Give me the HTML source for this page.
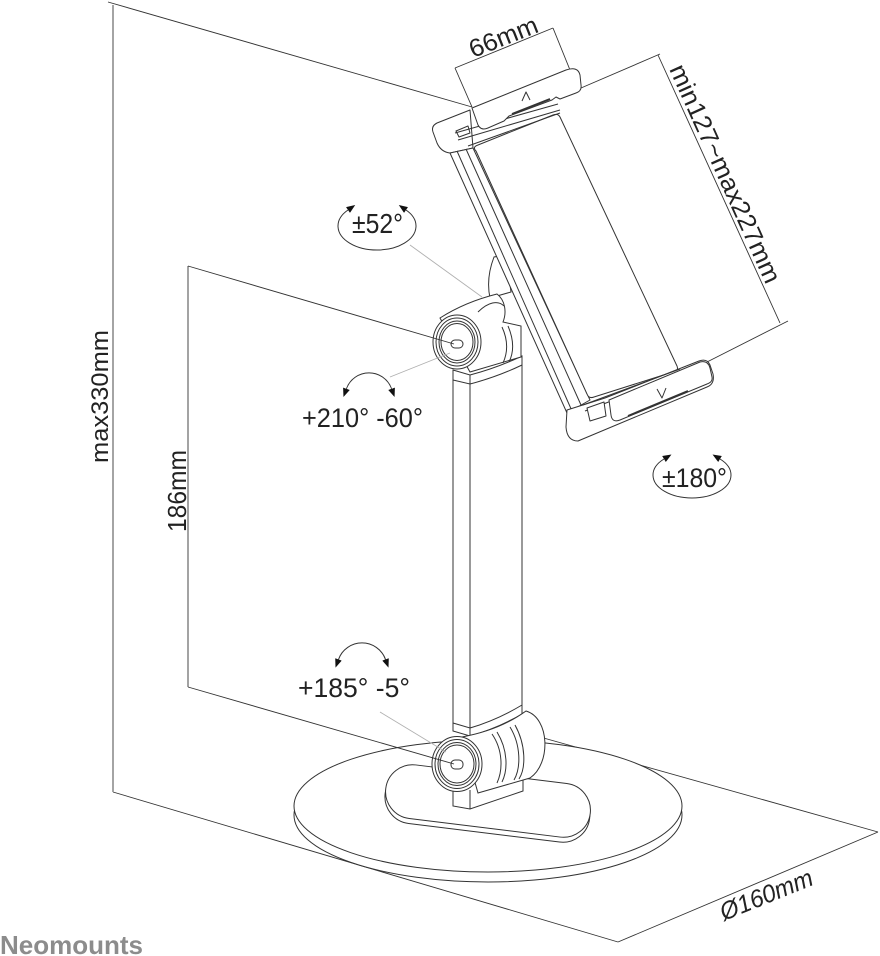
<!DOCTYPE html>
<html><head><meta charset="utf-8"><style>
html,body{margin:0;padding:0;background:#fff;}
svg{display:block;}
text{font-family:"Liberation Sans",sans-serif;fill:#222;}
</style></head><body>
<svg width="880" height="956" viewBox="0 0 880 956" xmlns="http://www.w3.org/2000/svg">
<defs>
<marker id="ah" viewBox="0 0 10 8" refX="0" refY="4" markerWidth="9" markerHeight="7" markerUnits="userSpaceOnUse" orient="auto-start-reverse"><path d="M0,0 L10,4 L0,8 Z" fill="#111"/></marker>
</defs>
<rect width="880" height="956" fill="#fff"/>

<!-- dimension lines (back) -->
<g stroke="#333" stroke-width="0.9" fill="none">
  <line x1="113" y1="792" x2="618" y2="942"/>
  <line x1="618" y1="942" x2="878" y2="832"/>
  <line x1="540" y1="737" x2="878" y2="832"/>
  <line x1="188" y1="266" x2="188" y2="687"/>
  <line x1="108" y1="2" x2="472" y2="107"/>
  <line x1="455" y1="68" x2="553" y2="28"/>
  <line x1="455" y1="68" x2="472" y2="107"/>
  <line x1="553" y1="28" x2="570" y2="70"/>
  <line x1="581" y1="88" x2="660" y2="54"/>
  <line x1="658" y1="55" x2="780" y2="323"/>
  <line x1="707" y1="362" x2="788" y2="321"/>
</g>
<line x1="113" y1="5" x2="113" y2="792" stroke="#9a9a9a" stroke-width="1.8"/>

<!-- base disk -->
<g stroke="#333" stroke-width="1" fill="#fff">
  <ellipse cx="488" cy="815" rx="194" ry="67"/>
  <ellipse cx="488" cy="806" rx="194" ry="66"/>
  <g transform="translate(488,801) rotate(7)">
    <rect x="-103" y="-22" width="206" height="54" rx="27"/>
    <rect x="-103" y="-27" width="206" height="54" rx="27"/>
  </g>
</g>

<!-- column -->
<g stroke="#333" stroke-width="1" fill="#fff">
  <path d="M453,370 L470,375 Q497,368 522,356 L522,714 Q498,728 470,736 L453,731 Z"/>
  <path d="M453,380 L470,384 Q497,377 522,365" fill="none"/>
  <path d="M453,723 L470,728 Q497,720 522,705" fill="none"/>
  <line x1="470" y1="375" x2="470" y2="736"/>
</g>

<!-- lower joint -->
<g stroke="#333" stroke-width="1" fill="#fff">
  <path d="M453,783 L453,806 L470,809 L523,791 L523,768 Z"/>
  <line x1="470" y1="790" x2="470" y2="809"/>
  <path d="M462,737 Q500,730 526,711 C550,718 551,764 530,778 L478,793 Z"/>
  <path d="M492,734 C503,750 503,770 497,783" fill="none"/>
  <path d="M497,732 C508,750 508,770 502,782" fill="none"/>
  <path d="M510,727 C521,745 521,768 514,780" fill="none"/>
  <path d="M515,725 C526,745 526,768 519,779" fill="none"/>
  <ellipse cx="457" cy="764" rx="25" ry="27.5"/>
  <ellipse cx="457" cy="764" rx="22" ry="24.5"/>
  <ellipse cx="457" cy="764" rx="19" ry="21.5"/>
  <ellipse cx="457" cy="764" rx="17" ry="19"/>
  <rect x="451" y="760" width="12" height="9" rx="4"/>
</g>

<!-- upper joint -->
<g stroke="#333" stroke-width="1" fill="#fff">
  <path d="M490,298 C487,284 489,270 494,257 L506,255 L511,292 Z"/>
  <path d="M440,318 Q465,302 497,294 C505,300 507,312 503,322 L521,326 L521,357 L470,372 Z"/>
  <path d="M478,312 C488,302 498,300 504,306" fill="none"/>
  <path d="M502,327 C508,340 508,352 503,363" fill="none"/>
  <path d="M508,326 C514,340 514,352 509,362" fill="none"/>
  <ellipse cx="457" cy="342" rx="24" ry="27"/>
  <ellipse cx="457" cy="342" rx="21" ry="24"/>
  <ellipse cx="457" cy="342" rx="18" ry="21"/>
  <ellipse cx="457" cy="342" rx="16" ry="18.5"/>
  <rect x="451" y="340" width="12" height="8" rx="4"/>
</g>

<!-- tablet holder -->
<g stroke="#333" stroke-width="1" fill="#fff" stroke-linejoin="round">
  <path d="M470,110 L437,123 Q431,126 433,132 L437,143 Q441,152 450,153 L473,148 Z"/>
  <path d="M450,153 L567,413 L590,400 L473,148 Z"/>
  <line x1="457" y1="151" x2="572" y2="411"/>
  <line x1="466" y1="149" x2="581" y2="405"/>
  <path d="M476,151 Q472,147 478,145 L553,115 Q558,113 560,117 L677,366 Q679,371 673,372 L594,397 Q589,399 587,394 Z"/>
  <path d="M456,131 L468,126 L470,133 L459,137 Z"/>
  <line x1="455" y1="133" x2="558" y2="104"/>
  <line x1="458" y1="140" x2="560" y2="110"/>
  <line x1="468" y1="146" x2="560" y2="113"/>
  <path d="M472,108 L566,70 Q578,66 580,75 L581,85 Q582,91 576,93 L560,99 L556,97 L552,100 L509,116 L504,121 L488,128 Q481,131 478,125 Z"/>
  <path d="M512,114 L550,99" stroke-width="2" fill="none"/>
  <path d="M522,101 L526,92 L530,100" fill="none"/>
  <path d="M567,410 L566,427 Q567,441 578,441 L707,387 Q715,384 713,374 L710,365 Q707,358 699,361 L605,398 Z"/>
  <line x1="583" y1="405" x2="680" y2="369"/>
  <line x1="585" y1="411" x2="682" y2="374"/>
  <path d="M609,400 L700,362 Q708,360 710,368 L712,377 Q713,382 707,384 L620,420 Q612,423 611,415 Z"/>
  <path d="M628,416 L688,391" stroke-width="2" fill="none"/>
  <path d="M657,389 L662,398 L666,388" fill="none"/>
  <path d="M587,408 L604,402 L606,416 L590,421 Z"/>
</g>

<!-- extension lines into knobs, leaders -->
<g stroke="#333" stroke-width="0.9">
  <line x1="188" y1="266" x2="454" y2="344"/>
  <line x1="188" y1="687" x2="454" y2="764"/>
</g>
<g stroke="#b0b0b0" stroke-width="0.9">
  <line x1="410" y1="245" x2="482" y2="297"/>
  <line x1="390" y1="377" x2="450" y2="353"/>
  <line x1="380" y1="712" x2="446" y2="752"/>
</g>

<!-- rotation arcs -->
<g stroke="#333" stroke-width="1" fill="none" marker-start="url(#ah)" marker-end="url(#ah)">
  <path d="M348,210 A39 24 0 1 0 406,210"/>
  <path d="M664,459 A39 23 0 1 0 720,459"/>
  <path d="M346.4,388.8 A24 24 0 0 1 391.6,388.8"/>
  <path d="M338.5,659.4 A25 25 0 0 1 385.5,659.4"/>
</g>

<!-- labels -->
<text transform="translate(473,58) rotate(-21.5)" font-size="25" textLength="72" lengthAdjust="spacingAndGlyphs">66mm</text>
<text transform="translate(669,69) rotate(65.8)" font-size="25" textLength="237" lengthAdjust="spacingAndGlyphs">min127~max227mm</text>
<text transform="translate(108,463) rotate(-90)" font-size="24" textLength="133" lengthAdjust="spacingAndGlyphs">max330mm</text>
<text transform="translate(186,532) rotate(-90)" font-size="26" textLength="82" lengthAdjust="spacingAndGlyphs">186mm</text>
<text x="352" y="233" font-size="28" textLength="51" lengthAdjust="spacingAndGlyphs">±52°</text>
<text x="302" y="427" font-size="27" textLength="121" lengthAdjust="spacingAndGlyphs">+210° -60°</text>
<text x="298" y="697" font-size="27" textLength="112" lengthAdjust="spacingAndGlyphs">+185° -5°</text>
<text x="662" y="487" font-size="27" textLength="65" lengthAdjust="spacingAndGlyphs">±180°</text>
<text transform="translate(724,921) rotate(-22)" font-size="25" font-style="italic" textLength="98" lengthAdjust="spacingAndGlyphs">Ø160mm</text>
<text x="0" y="954" font-size="26" font-weight="bold" style="fill:#8c8c8c" textLength="143" lengthAdjust="spacingAndGlyphs">Neomounts</text>
</svg>
</body></html>
